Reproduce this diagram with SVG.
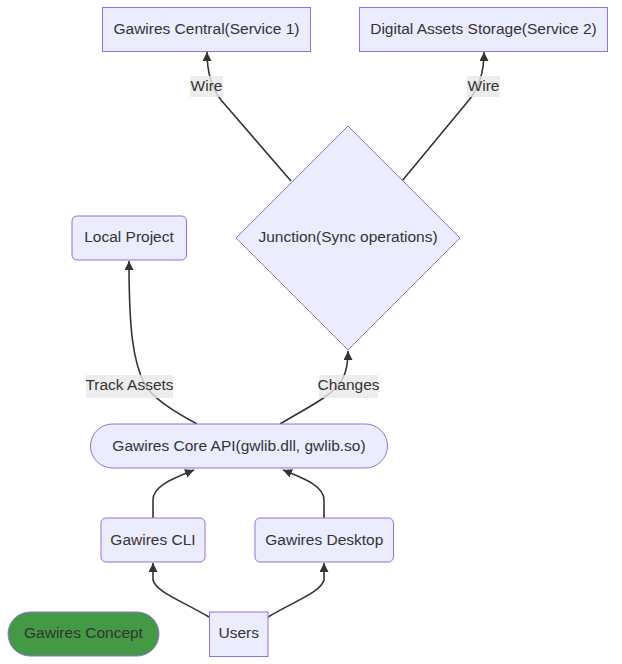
<svg xmlns="http://www.w3.org/2000/svg" width="622" height="664" viewBox="0 0 622 664">
<style>
.n{fill:#ECECFF;stroke:#9370DB;stroke-width:1}
.t{font-family:"Liberation Sans",Arial,sans-serif;font-size:15.5px;fill:#333;text-anchor:middle;dominant-baseline:central}
.e{fill:none;stroke:#333;stroke-width:1.6}
.lb{fill:#e8e8e8;fill-opacity:0.8}
</style>
<defs>
<marker id="ah" viewBox="0 0 10 10" refX="10" refY="5" markerWidth="9" markerHeight="9" markerUnits="userSpaceOnUse" orient="auto">
<path d="M0,0 L10,5 L0,10 z" fill="#333"/>
</marker>
</defs>
<rect width="622" height="664" fill="#fff"/>
<g id="edges">
<path class="e" d="M291,181 L221,100 Q207,82 207,52" marker-end="url(#ah)"/>
<path class="e" d="M402,181 L469,100 Q484,82 484,52" marker-end="url(#ah)"/>
<path class="e" d="M197,424 C175,412 155,400 145,385 C133,362 129,330 129,261" marker-end="url(#ah)"/>
<path class="e" d="M280,424 C308,407 335,395 343,378 Q348,368 348,351" marker-end="url(#ah)"/>
<path class="e" d="M153,518 L153,500 C153,486 172,479 194,470" marker-end="url(#ah)"/>
<path class="e" d="M324,518 L324,500 C324,486 305,479 283,470" marker-end="url(#ah)"/>
<path class="e" d="M209,617 C182,601 156,592 153,580 L153,563" marker-end="url(#ah)"/>
<path class="e" d="M268,617 C295,601 321,592 324,580 L324,563" marker-end="url(#ah)"/>
<rect class="lb" x="190" y="76" width="33" height="21"/>
<text class="t" x="206.5" y="85.5">Wire</text>
<rect class="lb" x="467" y="76" width="33" height="21"/>
<text class="t" x="483.5" y="85.5">Wire</text>
<rect class="lb" x="86" y="375" width="87" height="23"/>
<text class="t" x="129.5" y="384.5">Track Assets</text>
<rect class="lb" x="319" y="375" width="59" height="23"/>
<text class="t" x="348.5" y="384.5">Changes</text>
</g>
<g id="central">
<rect class="n" x="102.5" y="7.5" width="208" height="44"/>
<text class="t" x="206.5" y="28">Gawires Central(Service 1)</text>
</g>
<g id="storage">
<rect class="n" x="359.5" y="7.5" width="248" height="44"/>
<text class="t" x="483.5" y="28">Digital Assets Storage(Service 2)</text>
</g>
<g id="junction">
<polygon class="n" points="348,126 460,238 348,350 236,238"/>
<text class="t" x="348" y="236">Junction(Sync operations)</text>
</g>
<g id="local">
<rect class="n" x="72" y="216" width="114.5" height="44" rx="5"/>
<text class="t" x="129" y="236">Local Project</text>
</g>
<g id="core">
<rect class="n" x="90.5" y="424" width="297" height="44" rx="22"/>
<text class="t" x="239" y="445">Gawires Core API(gwlib.dll, gwlib.so)</text>
</g>
<g id="cli">
<rect class="n" x="101" y="518" width="104" height="44" rx="5"/>
<text class="t" x="153" y="539">Gawires CLI</text>
</g>
<g id="desktop">
<rect class="n" x="255" y="518" width="138.5" height="44" rx="5"/>
<text class="t" x="324.3" y="539">Gawires Desktop</text>
</g>
<g id="users">
<rect class="n" x="209.5" y="612" width="58.5" height="44.5"/>
<text class="t" x="238.8" y="632.5">Users</text>
</g>
<g id="concept">
<rect x="8" y="612" width="151" height="44" rx="22" fill="#449944" stroke="#9370DB" stroke-width="1"/>
<text class="t" x="83.5" y="632.5">Gawires Concept</text>
</g>
</svg>
